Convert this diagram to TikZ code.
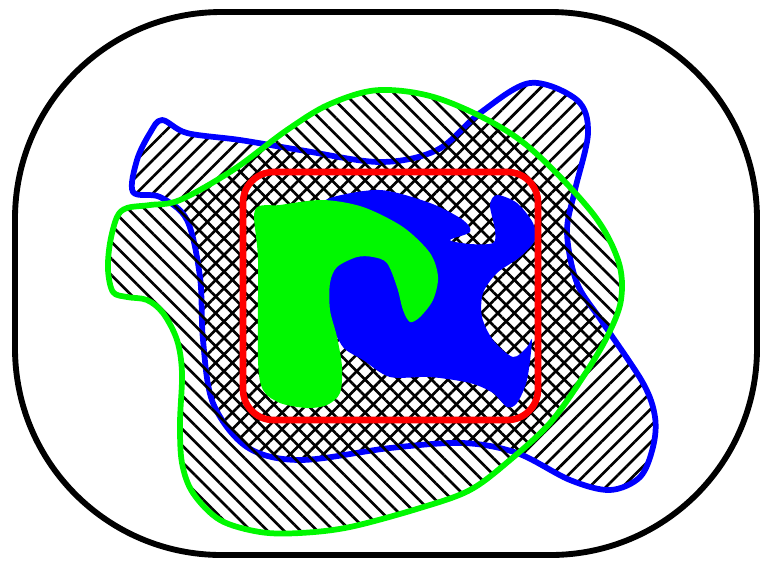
\documentclass[tikz,border=0pt]{standalone}
\usetikzlibrary{patterns.meta}
\definecolor{bl}{HTML}{0000FF}
\definecolor{gr}{HTML}{00F800}
\definecolor{rd}{HTML}{FF0000}
\tikzset{
  hatchne/.style={pattern={Lines[angle=45,distance=8.8pt,line width=2pt]}},
  hatchnw/.style={pattern={Lines[angle=-45,distance=8.8pt,line width=2pt]}},
  rim/.style={line width=4.3pt},
}

\begin{document}
\begin{tikzpicture}[x=0.75pt,y=-0.75pt,line join=round,line cap=round]
  \useasboundingbox (0,0) rectangle (762,562);

  % frame
  \draw[line width=4.4pt,rounded corners=155pt] (15,12) rectangle (757,555);

  % blue region, hatched one way
  \draw[bl,rim,hatchne] plot[smooth cycle,tension=0.55] coordinates {
    (162,120) (187,133) (240,140) (300,150) (380,162) (437,150) (480,113)
    (530,83) (577,100) (588,133) (575,190) (567,232) (577,283) (603,323)
    (643,383) (655,417) (653,447) (640,477) (610,490) (570,480) (517,453)
    (463,443) (390,448) (300,460) (247,447) (213,403) (203,340) (200,277)
    (187,220) (160,197) (133,192) (137,160) (150,133)};

  % green region, hatched the other way
  \draw[gr,rim,hatchnw] plot[smooth cycle,tension=0.55] coordinates {
    (380,90) (443,100) (520,140) (590,210) (618,260) (621,300) (607,337)
    (583,377) (550,423) (510,460) (470,490) (420,508) (350,527) (300,533)
    (260,532) (220,520) (193,493) (182,463) (180,423) (182,373) (177,340)
    (163,313) (147,300) (127,297) (113,292) (108,270) (110,243) (117,217)
    (127,208) (150,205) (180,200) (233,170) (287,130) (330,104)};

  % blue blob
  \fill[bl] plot[smooth cycle,tension=0.5] coordinates {
    (330,198) (380,190) (430,203) (463,220) (470,232) (450,240) (470,244)
    (493,243) (495,230) (490,205) (497,195) (517,203) (533,223) (535,240)
    (520,257) (497,273) (483,293) (482,317) (493,340) (513,357) (527,347)
    (532,340) (527,380) (517,403) (507,407) (493,393) (470,383) (430,377)
    (390,377) (363,360) (343,347) (330,320) (322,290) (320,250) (322,210)};

  % green blob
  \fill[gr] plot[smooth cycle,tension=0.5] coordinates {
    (255,210) (280,205) (323,200) (363,207) (403,227) (430,253) (438,277)
    (433,300) (420,317) (410,322) (403,310) (397,287) (387,263) (373,257)
    (357,257) (337,267) (330,283) (330,310) (337,337) (342,367) (340,393)
    (327,405) (307,408) (280,403) (263,390) (258,360) (258,260)};

  % red box
  \draw[rd,line width=5pt,rounded corners=23pt] (243,172) rectangle (538,420);
\end{tikzpicture}
\end{document}
